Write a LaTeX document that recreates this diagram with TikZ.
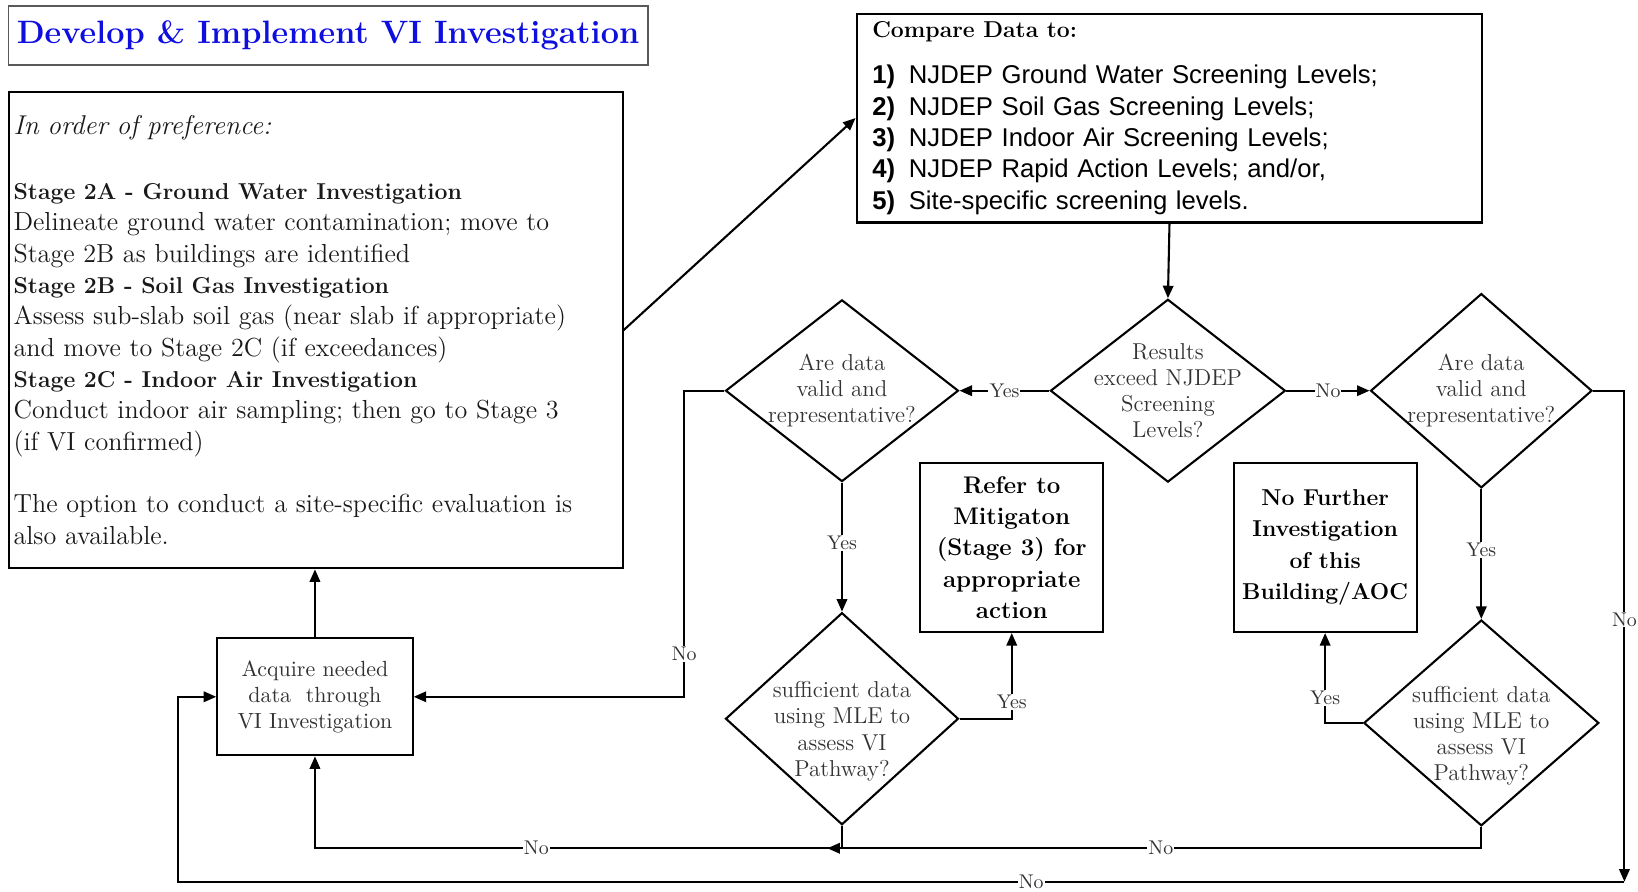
\documentclass[tikz,border=0pt]{standalone}
\usepackage{fontspec}
\usepackage{tikz}
\usetikzlibrary{shapes.geometric,arrows.meta,positioning}
\newfontfamily\arialfont{Liberation Sans}
\definecolor{titleblue}{RGB}{14,14,222}
\definecolor{txtgray}{RGB}{50,50,50}
\newcommand{\cmpitem}[2]{{\arialfont\makebox[17.5pt][l]{\textbf{#1}}#2}}

\begin{document}
\begin{tikzpicture}[x=0.5pt,y=-0.5pt,
    arr/.style={line width=1pt,-{Triangle[length=6pt,width=5pt]}},
    lbl/.style={fill=white,inner sep=0.5pt,text=txtgray,font=\fontsize{9.5}{11}\selectfont},
    box/.style={draw,rectangle,line width=1pt,inner sep=0pt},
    dia/.style={draw,diamond,line width=1pt,inner sep=0pt},
    dtxt/.style={align=center,text=txtgray,font=\fontsize{11}{12.5}\selectfont}]
    \useasboundingbox (0,0) rectangle (1568,853);

    \node[draw=black!65,line width=0.8pt,minimum width=306pt,minimum height=28pt,inner sep=0pt,
        text=titleblue,font=\fontsize{15.5}{18}\selectfont\bfseries] (title) at (314,34)
        {Develop \& Implement VI Investigation};

    \node[box,anchor=north west,text width=289.5pt,inner xsep=2pt,minimum height=228pt,
        align=left,text=black!90,font=\fontsize{12.5}{15}\selectfont] (prefs) at (8,87) {
        {\fontsize{13}{15}\selectfont\itshape In order of preference:}\\[16pt]
        {\fontsize{11}{15}\selectfont\bfseries Stage 2A - Ground Water Investigation}\\
        Delineate ground water contamination; move to\\
        Stage 2B as buildings are identified\\
        {\fontsize{11}{15}\selectfont\bfseries Stage 2B - Soil Gas Investigation}\\
        Assess sub-slab soil gas (near slab if appropriate)\\
        and move to Stage 2C (if exceedances)\\
        {\fontsize{11}{15}\selectfont\bfseries Stage 2C - Indoor Air Investigation}\\
        Conduct indoor air sampling; then go to Stage 3\\
        (if VI confirmed)\\[15pt]
        The option to conduct a site-specific evaluation is\\
        also available.};

    \node[box,anchor=north west,text width=284.5pt,inner xsep=7.5pt,minimum height=100pt,
        align=left,font=\fontsize{12.3}{15}\selectfont] (cmp) at (819,12) {
        {\fontsize{11}{15}\selectfont\bfseries Compare Data to:}\\[7pt]
        \cmpitem{1)}{NJDEP Ground Water Screening Levels;}\\
        \cmpitem{2)}{NJDEP Soil Gas Screening Levels;}\\
        \cmpitem{3)}{NJDEP Indoor Air Screening Levels;}\\
        \cmpitem{4)}{NJDEP Rapid Action Levels; and/or,}\\
        \cmpitem{5)}{Site-specific screening levels.}};

    \node[dia,minimum width=112.5pt,minimum height=87.5pt,
        label={[dtxt]center:{Results\\exceed NJDEP\\Screening\\Levels?}}] (d1) at (1118,374) {};
    \node[dia,minimum width=111.5pt,minimum height=87pt,
        label={[dtxt]center:{Are data\\valid and\\representative?}}] (d2) at (806,374) {};
    \node[dia,minimum width=106pt,minimum height=93pt,
        label={[dtxt]center:{Are data\\valid and\\representative?}}] (d3) at (1418,374) {};
    \node[dia,minimum width=111.5pt,minimum height=101.5pt,
        label={[dtxt,yshift=-6pt]center:{sufficient data\\using MLE to\\assess VI\\Pathway?}}] (d4) at (806,688) {};
    \node[dia,minimum width=112.5pt,minimum height=98.5pt,
        label={[dtxt,yshift=-6pt]center:{sufficient data\\using MLE to\\assess VI\\Pathway?}}] (d5) at (1418,692) {};

    \node[box,minimum width=87.5pt,minimum height=81pt,align=center,
        font=\fontsize{11.5}{15}\selectfont\bfseries] (refer) at (968.5,524)
        {Refer to\\Mitigaton\\(Stage 3) for\\appropriate\\action};
    \node[box,minimum width=87.5pt,minimum height=81pt,align=center,
        font=\fontsize{11}{15}\selectfont\bfseries] (nofur) at (1268.5,524)
        {No Further\\Investigation\\of this\\Building/AOC};
    \node[box,minimum width=93.5pt,minimum height=56pt,align=center,text=txtgray,
        font=\fontsize{10.5}{12.5}\selectfont] (acq) at (301.5,667)
        {Acquire needed\\data~ through\\VI Investigation};

    \coordinate (c2) at (655,667);
    \coordinate (c4) at (806,812);
    \coordinate (c5) at (792,812);
    \coordinate (c3) at (1555,844);
    \coordinate (c6) at (170,844);

    \draw[arr] (prefs.east) -- (cmp.west);
    \draw[arr] (cmp.south) -- (d1.north);
    \draw[arr] (d1.west) -- node[lbl]{Yes} (d2.east);
    \draw[arr] (d1.east) -- node[lbl]{No} (d3.west);
    \draw[arr] (d2.south) -- node[lbl,pos=0.47]{Yes} (d4.north);
    \draw[arr] (d3.south) -- node[lbl,pos=0.47]{Yes} (d5.north);
    \draw[arr] (d2.west) -| node[lbl,pos=0.93]{No} (c2) -- (acq.east);
    \draw[arr] (acq.north) -- (prefs.south -| acq.north);
    \draw[arr] (d4.east) -| node[lbl,pos=0.6]{Yes} (refer.south);
    \draw[arr] (d5.west) -| node[lbl,pos=0.64]{Yes} (nofur.south);
    \draw[arr] (d4.south) -- (c4) -| node[lbl,pos=0.29]{No} (acq.south);
    \draw[arr] (d5.south) |- node[lbl,pos=0.745]{No} (c5);
    \draw[arr] (d3.east) -| node[lbl,pos=0.733]{No} (c3);
    \draw[arr] (c3) -- node[lbl,pos=0.41]{No} (c6) |- (acq.west);
\end{tikzpicture}
\end{document}
